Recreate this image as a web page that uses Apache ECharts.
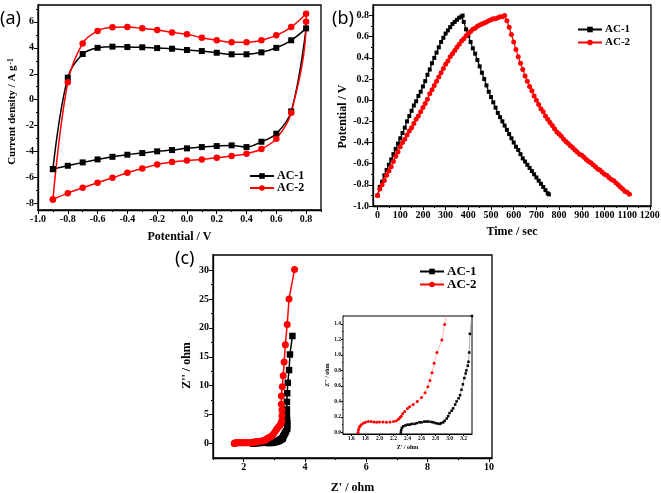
<!DOCTYPE html>
<html><head><meta charset="utf-8">
<script src="https://cdn.jsdelivr.net/npm/echarts@6/dist/echarts.min.js"></script>
<style>html,body{margin:0;padding:0;background:#fff}#c{width:661px;height:493px}</style>
</head><body><div id="c"></div>
<script>
// ---------- Panel (a): cyclic voltammetry ----------
const cvPotUp = [-0.9,-0.8,-0.7,-0.6,-0.5,-0.4,-0.3,-0.2,-0.1,0.0,0.1,0.2,0.3,0.4,0.5,0.6,0.7,0.8];
const cvAC1Up = [-5.35,1.70,3.52,4.00,4.09,4.06,4.04,3.98,3.93,3.83,3.75,3.62,3.50,3.50,3.65,4.00,4.58,5.50];
const cvPotDown1 = [0.7,0.6,0.5,0.4,0.3,0.2,0.1,0.0,-0.1,-0.2,-0.3,-0.4,-0.5,-0.6,-0.7,-0.8,-0.9];
const cvAC1Down = [-0.90,-2.62,-3.24,-3.65,-3.52,-3.57,-3.65,-3.75,-3.88,-3.98,-4.11,-4.24,-4.40,-4.60,-4.83,-5.09,-5.35];
const cvAC2Up = [-7.69,1.34,4.34,5.30,5.58,5.60,5.50,5.37,5.19,5.04,4.78,4.58,4.42,4.42,4.58,4.96,5.60,6.63];
const cvPotDown2 = [0.8,0.7,0.6,0.5,0.4,0.3,0.2,0.1,0.0,-0.1,-0.2,-0.3,-0.4,-0.5,-0.6,-0.7,-0.8,-0.9];
const cvAC2Down = [6.00,-1.00,-3.00,-3.80,-4.16,-4.34,-4.47,-4.60,-4.68,-4.80,-4.99,-5.30,-5.63,-6.02,-6.40,-6.79,-7.20,-7.69];
const aXTicks = [-1.0,-0.8,-0.6,-0.4,-0.2,0.0,0.2,0.4,0.6,0.8];
const aXMinor = [-0.9,-0.7,-0.5,-0.3,-0.1,0.1,0.3,0.5,0.7,0.9];
const aYTicks = [-8,-6,-4,-2,0,2,4,6];
const aYMinor = [-7,-5,-3,-1,1,3,5,7];

// ---------- Panel (b): charge / discharge ----------
const gcdTime1 = [0,10,20,30,40,50,60,70,80,90,100,110,120,130,140,150,160,170,180,190,200,210,220,230,240,250,260,270,280,290,300,310,320,330,340,350,360,370,375,
  380,390,400,410,420,430,440,450,460,470,480,490,500,510,520,530,540,550,560,570,580,590,600,610,620,630,640,650,660,670,680,690,700,710,720,730,740,750,755];
const gcdVolt1 = [-0.90,-0.82,-0.77,-0.71,-0.66,-0.61,-0.56,-0.51,-0.46,-0.41,-0.36,-0.31,-0.26,-0.20,-0.15,-0.10,-0.05,-0.01,0.04,0.08,0.13,0.18,0.24,0.29,0.35,0.40,0.45,0.50,0.55,0.59,0.63,0.66,0.69,0.72,0.74,0.76,0.78,0.79,0.80,
  0.74,0.67,0.61,0.55,0.49,0.44,0.38,0.32,0.26,0.20,0.14,0.08,0.03,-0.02,-0.07,-0.12,-0.16,-0.20,-0.24,-0.28,-0.32,-0.36,-0.40,-0.44,-0.47,-0.51,-0.55,-0.58,-0.61,-0.64,-0.67,-0.70,-0.73,-0.76,-0.79,-0.82,-0.85,-0.88,-0.89];
const gcdTime2 = [0,10,20,30,40,50,60,70,80,90,100,110,120,130,140,150,160,170,180,190,200,210,220,230,240,250,260,270,280,290,300,310,320,330,340,350,360,370,380,390,400,410,420,430,440,450,460,470,480,490,500,510,520,530,540,550,560,
  570,580,590,600,610,620,630,640,650,660,670,680,690,700,710,720,730,740,750,760,770,780,790,800,810,820,830,840,850,860,870,880,890,900,910,920,930,940,950,960,970,980,990,1000,1010,1020,1030,1040,1050,1060,1070,1080,1090,1100,1110];
const gcdVolt2 = [-0.90,-0.84,-0.80,-0.76,-0.71,-0.67,-0.63,-0.58,-0.53,-0.49,-0.44,-0.40,-0.37,-0.33,-0.29,-0.26,-0.22,-0.18,-0.15,-0.11,-0.07,-0.03,0.01,0.06,0.10,0.14,0.18,0.22,0.26,0.30,0.34,0.37,0.41,0.44,0.47,0.50,0.53,0.56,0.58,0.61,0.63,0.65,0.67,0.68,0.70,0.71,0.72,0.73,0.74,0.75,0.76,0.77,0.77,0.78,0.79,0.79,0.80,
  0.75,0.69,0.62,0.55,0.48,0.41,0.35,0.29,0.23,0.18,0.13,0.09,0.04,0.00,-0.04,-0.08,-0.11,-0.15,-0.18,-0.21,-0.24,-0.27,-0.30,-0.32,-0.34,-0.37,-0.39,-0.41,-0.43,-0.45,-0.47,-0.49,-0.51,-0.52,-0.54,-0.56,-0.58,-0.59,-0.61,-0.63,-0.65,-0.66,-0.68,-0.70,-0.71,-0.73,-0.75,-0.76,-0.78,-0.80,-0.82,-0.84,-0.86,-0.87,-0.89];
const bXTicks = [0,100,200,300,400,500,600,700,800,900,1000,1100,1200];
const bXMinor = [50,150,250,350,450,550,650,750,850,950,1050,1150];
const bYTicks = [-1.0,-0.8,-0.6,-0.4,-0.2,0.0,0.2,0.4,0.6,0.8];
const bYMinor = [-0.9,-0.7,-0.5,-0.3,-0.1,0.1,0.3,0.5,0.7];

// ---------- Panel (c): Nyquist ----------
const nyqRe1 = [2.305,2.31,2.32,2.34,2.37,2.40,2.43,2.46,2.50,2.53,2.57,2.60,2.64,2.67,2.70,2.74,2.77,2.80,2.83,2.86,2.88,2.91,2.93,2.96,2.98,3.00,3.03,3.05,3.08,3.10,3.13,3.15,3.17,3.19,3.21,3.23,3.24,3.26,3.27,3.28,3.29,3.32,3.35,3.38,3.42,3.42,3.42,3.42,3.41,3.41,3.41,3.42,3.44,3.48,3.51,3.59];
const nyqIm1 = [0.00,0.03,0.06,0.08,0.09,0.10,0.10,0.11,0.11,0.12,0.13,0.13,0.14,0.14,0.14,0.135,0.13,0.12,0.115,0.11,0.12,0.13,0.15,0.18,0.21,0.25,0.28,0.31,0.36,0.40,0.44,0.48,0.55,0.62,0.70,0.76,0.80,0.86,0.91,1.03,1.27,1.50,1.80,2.10,2.50,3.00,3.50,4.00,4.90,5.90,7.20,8.70,10.50,12.70,15.40,18.60];
const nyqRe2 = [1.695,1.70,1.71,1.72,1.74,1.77,1.80,1.84,1.88,1.92,1.96,2.00,2.05,2.10,2.15,2.20,2.24,2.27,2.29,2.31,2.33,2.36,2.40,2.43,2.48,2.54,2.60,2.65,2.69,2.72,2.75,2.78,2.82,2.89,2.93,2.98,3.03,3.08,3.14,3.19,3.22,3.24,3.25,3.25,3.23,3.23,3.26,3.29,3.32,3.36,3.42,3.48,3.66];
const nyqIm2 = [0.00,0.03,0.06,0.08,0.10,0.12,0.13,0.14,0.14,0.135,0.13,0.135,0.135,0.13,0.135,0.14,0.15,0.17,0.19,0.21,0.24,0.27,0.31,0.33,0.36,0.40,0.45,0.51,0.59,0.67,0.77,0.89,1.03,1.19,1.39,1.70,2.10,2.50,2.90,3.20,3.50,3.90,4.80,5.80,6.80,8.20,9.80,11.70,14.10,17.10,20.60,25.00,30.10];
const cXTicks = [2,4,6,8,10];
const cXMinor = [1,3,5,7,9];
const cYTicks = [0,5,10,15,20,25,30];
const cYMinor = [2.5,7.5,12.5,17.5,22.5,27.5];
const insXTicks = [1.6,1.8,2.0,2.2,2.4,2.6,2.8,3.0,3.2];
const insXMinor = [1.5,1.7,1.9,2.1,2.3,2.5,2.7,2.9,3.1,3.3];
const insYTicks = [0.0,0.2,0.4,0.6,0.8,1.0,1.2,1.4];
const insYMinor = [0.1,0.3,0.5,0.7,0.9,1.1,1.3];

const SERIF = '"Liberation Serif","Times New Roman",serif';
const zip = (xs, ys) => xs.map((x, i) => [x, ys[i]]);
const f1 = v => (Math.round(v * 10) / 10).toFixed(1);
const f0 = v => String(Math.round(v));

function axisPair(grid, min, max, majors, minors, fmt, o) {
  const main = {
    type: 'value', gridIndex: grid, min: min, max: max, position: o.pos,
    axisLine: {show: true, onZero: false, lineStyle: {color: '#000', width: o.lw || 1.3}},
    axisTick: {show: true, inside: false, length: o.tl || 4, customValues: majors, lineStyle: {color: '#000', width: 1}},
    axisLabel: {show: true, customValues: majors, formatter: fmt, color: '#000', fontFamily: SERIF, fontWeight: 'bold', fontSize: o.fs, margin: o.lm || 4},
    splitLine: {show: false}, splitArea: {show: false}, minorTick: {show: false}, minorSplitLine: {show: false},
    name: o.name, nameLocation: 'middle', nameGap: o.ng,
    nameTextStyle: Object.assign({color: '#000', fontFamily: SERIF, fontWeight: 'bold', fontSize: o.nfs}, o.nts || {})
  };
  const minor = {
    type: 'value', gridIndex: grid, min: min, max: max, position: o.pos,
    axisLine: {show: false, onZero: false}, axisLabel: {show: false},
    splitLine: {show: false}, splitArea: {show: false}, minorTick: {show: false}, minorSplitLine: {show: false},
    axisTick: {show: true, inside: false, length: o.mtl || 2, customValues: minors, lineStyle: {color: '#000', width: 1}}
  };
  return [main, minor];
}

const xAxes = [], yAxes = [];
// grid 0 : (a)
xAxes.push(...axisPair(0, -1.0, 0.9, aXTicks, aXMinor, f1, {pos: 'bottom', fs: 10, name: 'Potential / V', ng: 21, nfs: 12}));
yAxes.push(...axisPair(0, -8.5, 7.3, aYTicks, aYMinor, f0, {pos: 'left', fs: 10, name: 'Current density / A g{sup|-1}', ng: 20, nfs: 11,
  nts: {padding: [0, 8, 0, 0], rich: {sup: {fontSize: 7.5, fontFamily: SERIF, fontWeight: 'bold', verticalAlign: 'top', lineHeight: 7, padding: [0, 0, 0, 1]}}}}));
// grid 1 : (b)
xAxes.push(...axisPair(1, -20, 1205, bXTicks, bXMinor, f0, {pos: 'bottom', fs: 10, name: 'Time / sec', ng: 20, nfs: 12}));
yAxes.push(...axisPair(1, -1.0, 0.9, bYTicks, bYMinor, f1, {pos: 'left', fs: 10, name: 'Potential / V', ng: 23, nfs: 12,
  nts: {padding: [0, 22, 0, 0]}}));
// grid 2 : (c)
xAxes.push(...axisPair(2, 1, 10.1, cXTicks, cXMinor, f0, {pos: 'bottom', fs: 10, name: "Z' / ohm", ng: 24, nfs: 12}));
yAxes.push(...axisPair(2, -2.5, 32.6, cYTicks, cYMinor, f0, {pos: 'left', fs: 10, name: "Z'' / ohm", ng: 20, nfs: 12,
  nts: {padding: [0, 18, 0, 0]}}));
// grid 3 : inset
xAxes.push(...axisPair(3, 1.48, 3.32, insXTicks, insXMinor, f1, {pos: 'bottom', fs: 5.5, lm: 2, tl: 2, mtl: 1, lw: 1, name: "Z' / ohm", ng: 10, nfs: 6}));
yAxes.push(...axisPair(3, -0.02, 1.5, insYTicks, insYMinor, f1, {pos: 'left', fs: 5.5, lm: 2, tl: 2, mtl: 1, lw: 1, name: "Z'' / ohm", ng: 12, nfs: 6}));

const blackMain = {color: '#000'};
const redMain = {color: '#ff0000'};

const series = [
  // (a)
  {name: 'AC-1', type: 'line', xAxisIndex: 0, yAxisIndex: 0, smooth: 0.35,
   data: zip(cvPotUp, cvAC1Up).concat(zip(cvPotDown1, cvAC1Down)),
   symbol: 'rect', symbolSize: 6, lineStyle: {color: '#000', width: 1.5}, itemStyle: blackMain},
  {name: 'AC-2', type: 'line', xAxisIndex: 0, yAxisIndex: 0, smooth: 0.35,
   data: zip(cvPotUp, cvAC2Up).concat(zip(cvPotDown2, cvAC2Down)),
   symbol: 'circle', symbolSize: 6.5, lineStyle: {color: '#ff0000', width: 1.5}, itemStyle: redMain},
  // (b)
  {name: 'AC-1', type: 'line', xAxisIndex: 2, yAxisIndex: 2, data: zip(gcdTime1, gcdVolt1),
   symbol: 'rect', symbolSize: 4, lineStyle: {color: '#000', width: 1.2}, itemStyle: blackMain},
  {name: 'AC-2', type: 'line', xAxisIndex: 2, yAxisIndex: 2, data: zip(gcdTime2, gcdVolt2),
   symbol: 'circle', symbolSize: 5, lineStyle: {color: '#ff0000', width: 1.2}, itemStyle: redMain},
  // (c)
  {name: 'AC-1', type: 'line', xAxisIndex: 4, yAxisIndex: 4, data: zip(nyqRe1, nyqIm1),
   symbol: 'rect', symbolSize: 6.5, lineStyle: {color: '#000', width: 1.5}, itemStyle: blackMain},
  {name: 'AC-2', type: 'line', xAxisIndex: 4, yAxisIndex: 4, data: zip(nyqRe2, nyqIm2),
   symbol: 'circle', symbolSize: 7, lineStyle: {color: '#ff0000', width: 1.5}, itemStyle: redMain},
  // inset
  {name: 'AC-1 inset', type: 'line', xAxisIndex: 6, yAxisIndex: 6, data: zip(nyqRe1, nyqIm1),
   symbol: 'rect', symbolSize: 2.5, lineStyle: {color: '#8a8a8a', width: 0.7}, itemStyle: blackMain},
  {name: 'AC-2 inset', type: 'line', xAxisIndex: 6, yAxisIndex: 6, data: zip(nyqRe2, nyqIm2),
   symbol: 'circle', symbolSize: 3, lineStyle: {color: '#ff9a9a', width: 0.7}, itemStyle: redMain}
];
series.forEach(s => { s.animation = false; s.showAllSymbol = true; s.z = s.name.indexOf('inset') >= 0 ? 5 : 2; });

const legendBase = (left, top, fs, gap) => ({
  data: ['AC-1', 'AC-2'], orient: 'vertical', left: left, top: top, itemWidth: 24, itemHeight: 7, itemGap: gap,
  textStyle: {color: '#000', fontFamily: SERIF, fontWeight: 'bold', fontSize: fs, padding: [0, 0, 0, -2]},
  selectedMode: false
});

const chart = echarts.init(document.getElementById('c'), null, {renderer: 'canvas'});
chart.setOption({
  animation: false,
  backgroundColor: '#fff',
  grid: [
    {left: 38, top: 5, width: 283, height: 205, show: true, borderColor: '#000', borderWidth: 1.3, backgroundColor: 'transparent', outerBoundsMode: 'none'},
    {left: 373, top: 5, width: 278, height: 201, show: true, borderColor: '#000', borderWidth: 1.3, backgroundColor: 'transparent', outerBoundsMode: 'none'},
    {left: 213, top: 255, width: 279, height: 203, show: true, borderColor: '#000', borderWidth: 1.3, backgroundColor: 'transparent', outerBoundsMode: 'none'},
    {left: 343, top: 316, width: 129, height: 118, show: true, borderColor: '#000', borderWidth: 1, backgroundColor: '#fff', outerBoundsMode: 'none', z: 4}
  ],
  xAxis: xAxes,
  yAxis: yAxes,
  legend: [
    legendBase(244, 165, 12, 0),
    legendBase(572, 19, 11, 2),
    legendBase(414, 260, 13, 0)
  ],
  graphic: [
    {type: 'text', left: 0, top: 10, style: {text: '(a)', font: '18px "Noto Sans"', fill: '#000'}},
    {type: 'text', left: 332, top: 10, style: {text: '(b)', font: '18px "Noto Sans"', fill: '#000'}},
    {type: 'text', left: 175, top: 250, style: {text: '(c)', font: '18px "Noto Sans"', fill: '#000'}}
  ],
  series: series
});
</script></body></html>
